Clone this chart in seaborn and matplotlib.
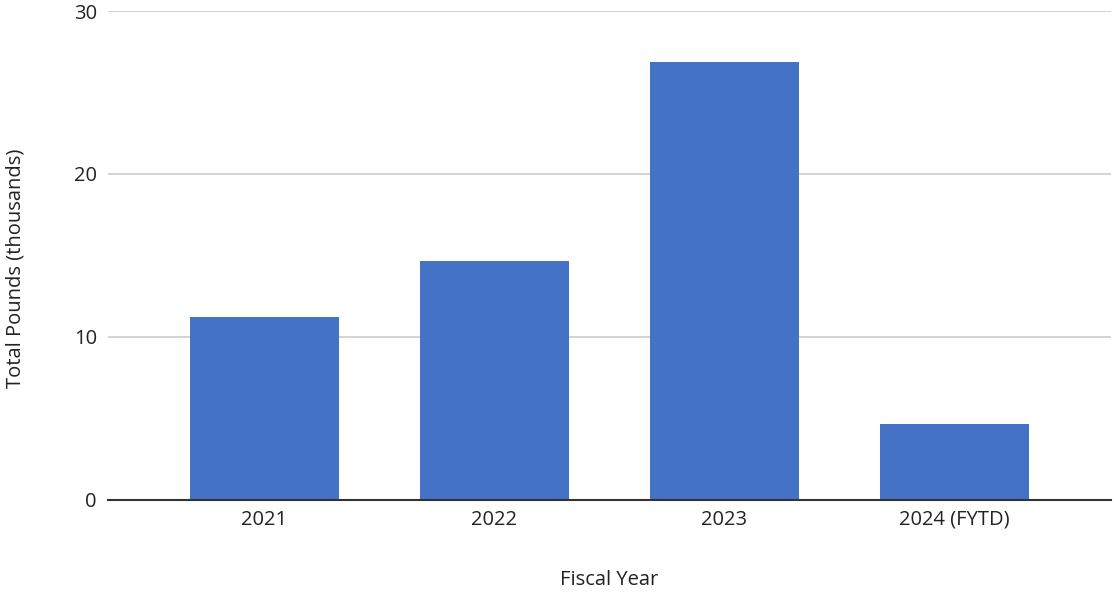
import matplotlib
matplotlib.use("Agg")
import matplotlib.pyplot as plt
import seaborn as sns
import pandas as pd

categories = ["2021", "2022", "2023", "2024 (FYTD)"]
values = [11.2, 14.65, 26.9, 4.65]
yticks = [0, 10, 20, 30]

sns.set_theme(style="white")
plt.rcParams['font.family'] = ['Open Sans', 'DejaVu Sans']

df = pd.DataFrame({"Fiscal Year": categories, "Total Pounds (thousands)": values})

fig = plt.figure(figsize=(11.14, 5.95), dpi=100)
ax = fig.add_axes([0.097, 0.1597, 0.9, 0.8218])
sns.barplot(data=df, x="Fiscal Year", y="Total Pounds (thousands)", color="#4472C4",
            saturation=1, width=0.65, ax=ax, zorder=3, linewidth=0)

ax.set_ylim(0, 30)
ax.set_xlim(-0.68, 3.68)
ax.set_yticks(yticks)
ax.yaxis.grid(True, color="#cccccc", linewidth=1.2, zorder=0)
ax.set_axisbelow(True)
for s in ["top", "right", "left"]:
    ax.spines[s].set_visible(False)
ax.spines["bottom"].set_color("#333333")
ax.spines["bottom"].set_linewidth(1.5)
ax.spines["bottom"].set_zorder(4)
ax.tick_params(axis="both", length=0, labelsize=14.5, colors="#222222")
ax.tick_params(axis="y", pad=8)
ax.tick_params(axis="x", pad=7)
ax.set_xlabel("Fiscal Year", fontsize=14.5, color="#222222")
ax.set_ylabel("Total Pounds (thousands)", fontsize=14.5, color="#222222")
ax.xaxis.label.set_va("center")
ax.yaxis.label.set_va("center")
ax.xaxis.set_label_coords(0.5, -0.1636)
ax.yaxis.set_label_coords(-0.0928, 0.473)

fig.savefig("out.png", dpi=100)
